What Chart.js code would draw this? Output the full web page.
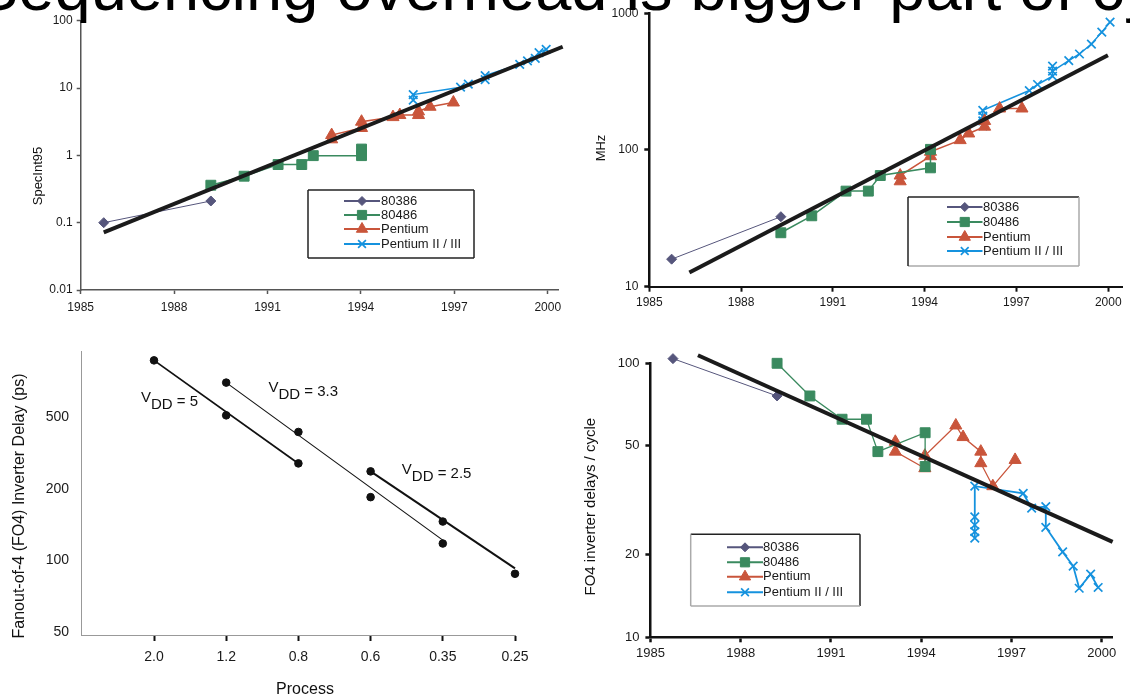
<!DOCTYPE html>
<html>
<head>
<meta charset="utf-8">
<script src="https://cdn.jsdelivr.net/npm/chart.js@4.4.1/dist/chart.umd.min.js"></script>
<style>
  html, body { margin: 0; padding: 0; background: #fff; }
  #page { position: relative; width: 1130px; height: 698px; overflow: hidden; background: #fff; }
  canvas { position: absolute; }
  #title {
    position: absolute; left: -25px; top: -45px; z-index: 2;
    font: 65px/65px "Liberation Sans", Arial, sans-serif; color: #000; white-space: nowrap;
  }
</style>
</head>
<body>
<div id="page">
  <canvas id="spec" width="570" height="330" style="left:0;top:0"></canvas>
  <canvas id="mhz" width="560" height="330" style="left:570px;top:0"></canvas>
  <canvas id="fo4" width="570" height="368" style="left:0;top:330px"></canvas>
  <canvas id="cycle" width="560" height="368" style="left:570px;top:330px"></canvas>
  <div id="title">Sequencing overhead is bigger part of cycle</div>
</div>
<script>
// ---------- data ----------
const yearTicks = [1985, 1988, 1991, 1994, 1997, 2000];
const seriesNames = ['80386', '80486', 'Pentium', 'Pentium II / III'];

// SpecInt95 (top left)
const specTicks = [0.01, 0.1, 1, 10, 100];
const spec386 = [[1985.74, 0.1], [1989.18, 0.21]];
const spec486 = [[1989.18, 0.36], [1990.25, 0.49], [1991.34, 0.73], [1992.1, 0.73], [1992.47, 0.99], [1994.02, 0.99], [1994.02, 1.24]];
const specPentium = [[1993.06, 1.73], [1993.06, 2.0], [1994.02, 2.55], [1994.02, 3.16], [1995.03, 3.7], [1995.25, 3.97], [1995.85, 3.97], [1995.85, 4.5], [1996.22, 5.27], [1996.97, 6.1]];
const specP2 = [[1995.68, 6.6], [1995.68, 8.0], [1997.2, 10.3], [1997.45, 11.4], [1997.99, 13.3], [1997.99, 15.3], [1999.1, 22.5], [1999.35, 25.3], [1999.6, 27.5], [1999.72, 33.5], [1999.95, 37.5]];
const specTrend = [[1985.74, 0.072], [2000.48, 41]];

// MHz (top right)
const mhzTicks = [10, 100, 1000];
const mhz386 = [[1985.73, 15.9], [1989.3, 32.5]];
const mhz486 = [[1989.3, 24.8], [1990.31, 33], [1991.43, 50], [1992.16, 50], [1992.55, 65], [1994.19, 74], [1994.19, 101]];
const mhzPentium = [[1993.2, 59], [1993.2, 65], [1994.19, 90], [1994.19, 97], [1995.16, 118], [1995.44, 132], [1995.96, 148], [1995.96, 163], [1996.45, 201], [1997.18, 201]];
const mhzP2 = [[1995.9, 150], [1995.9, 163], [1995.9, 177], [1995.9, 195], [1997.42, 272], [1997.69, 301], [1998.18, 346], [1998.18, 410], [1998.18, 377], [1998.71, 450], [1999.06, 503], [1999.45, 595], [1999.79, 727], [2000.06, 861]];
const mhzTrend = [[1986.31, 12.7], [1999.99, 492]];

// FO4 delay vs process (bottom left)
const processLabels = ['', '2.0', '1.2', '0.8', '0.6', '0.35', '0.25'];
const fo4Ticks = [50, 100, 200, 500];
const fo4Stops = [50, 100, 200, 500, 1000];
const vdd5 = [null, 871, 511, 278, null, null, null];
const vdd33 = [null, null, 702, 416, 185, 118, null];
const vdd25 = [null, null, null, null, 251, 146, 88];
const fit5 = [null, 871, null, 278, null, null, null];
const fit33 = [null, null, 702, null, null, 122, null];
const fit25 = [null, null, null, null, 251, null, 92.7];

// FO4 delays per cycle (bottom right)
const cycleTicks = [10, 20, 50, 100];
const cycle386 = [[1985.75, 104], [1989.21, 76]];
const cycle486 = [[1989.21, 100], [1990.3, 76], [1991.37, 62.5], [1992.18, 62.5], [1992.56, 47.6], [1994.13, 55.8], [1994.13, 42]];
const cyclePentium = [[1993.14, 51.7], [1993.14, 47.6], [1994.12, 41.4], [1994.12, 46], [1995.15, 59.3], [1995.39, 53.8], [1995.98, 47.6], [1995.98, 43.2], [1996.38, 35.6], [1997.12, 44.4]];
const cycleP2 = [[1995.78, 23], [1995.78, 24.3], [1995.78, 25.7], [1995.78, 27.5], [1995.78, 35.6], [1997.39, 33.5], [1997.67, 29.6], [1998.14, 30], [1998.14, 25.2], [1998.7, 20.5], [1999.05, 18.2], [1999.25, 15.1], [1999.63, 17], [1999.88, 15.2]];
const cycleTrend = [[1986.58, 107], [2000.36, 22.3]];

// ---------- look ----------
const FONT = '"Liberation Sans", Arial, sans-serif';
Chart.defaults.font.family = FONT;
Chart.defaults.color = '#1a1a1a';
Chart.defaults.animation = false;
Chart.defaults.plugins.legend.display = false;
Chart.defaults.plugins.tooltip.enabled = false;

const looks = [
  { color: '#56567c', style: 'rectRot', radius: 5, width: 1 },
  { color: '#3a8a5f', style: 'rect', radius: 7, width: 1.5 },
  { color: '#c9553b', style: 'triangle', radius: 7, width: 1.5 },
  { color: '#1592de', style: 'crossRot', radius: 6, width: 1.5 }
];

// y axis with log steps between the given stops (the FO4 plot spaces 50/100/200/500 evenly)
class StepLogScale extends Chart.Scale {
  static id = 'steplog';
  static defaults = {};
  determineDataLimits() {
    this.min = this.options.min;
    this.max = this.options.max;
  }
  buildTicks() {
    return this.options.tickValues.map(v => ({ value: v }));
  }
  toIdx(v) {
    const s = this.options.stops;
    let i = 0;
    while (i < s.length - 2 && v > s[i + 1]) i++;
    return i + Math.log(v / s[i]) / Math.log(s[i + 1] / s[i]);
  }
  fromIdx(idx) {
    const s = this.options.stops;
    const i = Math.max(0, Math.min(s.length - 2, Math.floor(idx)));
    return s[i] * Math.pow(s[i + 1] / s[i], idx - i);
  }
  getPixelForValue(v) {
    const a = this.toIdx(this.min), b = this.toIdx(this.max);
    return this.getPixelForDecimal((this.toIdx(v) - a) / (b - a));
  }
  getValueForPixel(p) {
    const a = this.toIdx(this.min), b = this.toIdx(this.max);
    return this.fromIdx(a + this.getDecimalForPixel(p) * (b - a));
  }
  getLabelForValue(v) {
    return String(v);
  }
}
Chart.register(StepLogScale);

// legend box: line + marker + name, like the original spreadsheet legends
const seriesLegend = {
  id: 'seriesLegend',
  afterDraw(chart, args, o) {
    if (!o || !o.rows) return;
    const ctx = chart.ctx;
    ctx.save();
    ctx.fillStyle = '#fff';
    ctx.fillRect(o.x, o.y, o.w, o.h);
    const sides = {
      top: [o.x, o.y, o.x + o.w, o.y],
      right: [o.x + o.w, o.y, o.x + o.w, o.y + o.h],
      bottom: [o.x, o.y + o.h, o.x + o.w, o.y + o.h],
      left: [o.x, o.y, o.x, o.y + o.h]
    };
    ctx.lineWidth = 1.5;
    Object.keys(sides).forEach(k => {
      const s = sides[k];
      ctx.strokeStyle = o.dark.includes(k) ? '#222' : '#aaa';
      ctx.beginPath();
      ctx.moveTo(s[0], s[1]);
      ctx.lineTo(s[2], s[3]);
      ctx.stroke();
    });
    chart.data.datasets.filter(d => d.inLegend).forEach((d, i) => {
      const y = o.rows[i];
      ctx.strokeStyle = d.borderColor;
      ctx.lineWidth = 2;
      ctx.beginPath();
      ctx.moveTo(o.x0, y);
      ctx.lineTo(o.x1, y);
      ctx.stroke();
      ctx.fillStyle = d.pointBackgroundColor;
      ctx.strokeStyle = d.pointBorderColor;
      ctx.lineWidth = d.pointBorderWidth;
      Chart.helpers.drawPoint(ctx, { pointStyle: d.pointStyle, radius: d.pointRadius - 0.5, borderWidth: d.pointBorderWidth, rotation: 0 }, (o.x0 + o.x1) / 2, y);
      ctx.fillStyle = '#1a1a1a';
      ctx.font = o.font + 'px ' + FONT;
      ctx.textAlign = 'left';
      ctx.textBaseline = 'middle';
      ctx.fillText(d.label, o.tx, y);
    });
    ctx.restore();
  }
};

// axis titles and the V_DD annotations
const chartText = {
  id: 'chartText',
  afterDraw(chart, args, o) {
    if (!o || !o.items) return;
    const ctx = chart.ctx;
    o.items.forEach(it => {
      ctx.save();
      ctx.translate(it.x, it.y);
      if (it.rotate) ctx.rotate(it.rotate);
      ctx.font = it.font;
      ctx.fillStyle = '#111';
      ctx.textAlign = it.align || 'left';
      ctx.textBaseline = it.baseline || 'alphabetic';
      let x = 0;
      (it.parts || [{ t: it.text, dy: 0 }]).forEach(p => {
        ctx.fillText(p.t, x, p.dy);
        x += ctx.measureText(p.t).width;
      });
      ctx.restore();
    });
  }
};

function xy(points) {
  return points.map(([x, y]) => ({ x, y }));
}

function seriesSet(points, i, lw) {
  const s = looks[i];
  return {
    label: seriesNames[i], inLegend: true,
    data: xy(points), showLine: true, clip: false,
    borderColor: s.color, borderWidth: lw || s.width,
    pointStyle: s.style, pointRadius: s.radius,
    pointBackgroundColor: s.color, pointBorderColor: s.color,
    pointBorderWidth: s.style === 'crossRot' ? 1.7 : 1
  };
}

function trendSet(points) {
  return {
    data: xy(points), showLine: true, clip: false, order: -1,
    borderColor: '#1b1b1b', borderWidth: 4, pointRadius: 0
  };
}

function yearAxis(max, o) {
  return {
    type: 'linear', min: 1985, max,
    afterBuildTicks: s => { s.ticks = yearTicks.map(v => ({ value: v })); },
    afterFit: s => { s.height = o.size; },
    ticks: { callback: v => String(v), font: { size: o.font }, padding: o.pad, maxRotation: 0, autoSkip: false },
    grid: { drawOnChartArea: false, tickLength: o.tick, tickColor: o.color, tickWidth: o.lw },
    border: { color: o.color, width: o.lw }
  };
}

function logAxis(min, max, tickValues, o) {
  return {
    type: 'logarithmic', min, max,
    afterBuildTicks: s => { s.ticks = tickValues.map(v => ({ value: v })); },
    afterFit: s => { s.width = o.size; },
    ticks: { callback: v => String(v), font: { size: o.font }, padding: o.pad, autoSkip: false },
    grid: { drawOnChartArea: false, tickLength: o.tick, tickColor: o.color, tickWidth: o.lw },
    border: { color: o.color, width: o.lw }
  };
}

const ROT = -Math.PI / 2;

// ---------- top left: SpecInt95 ----------
new Chart(document.getElementById('spec'), {
  type: 'scatter',
  data: {
    datasets: [
      trendSet(specTrend),
      seriesSet(spec386, 0), seriesSet(spec486, 1), seriesSet(specPentium, 2), seriesSet(specP2, 3)
    ]
  },
  options: {
    responsive: false,
    layout: { padding: { top: 20.7, right: 12, left: 0, bottom: 0 } },
    scales: {
      x: yearAxis(2000.33, { size: 40, font: 12, pad: 6, tick: 4, color: '#555', lw: 1.5 }),
      y: logAxis(0.01, 100, specTicks, { size: 80.7, font: 12, pad: 4, tick: 4, color: '#555', lw: 1.5 })
    },
    plugins: {
      seriesLegend: { x: 308, y: 190, w: 166, h: 68, x0: 344, x1: 380, tx: 381, rows: [201, 215, 229, 244], font: 13, dark: ['top', 'right', 'bottom', 'left'] },
      chartText: { items: [
        { text: 'SpecInt95', x: 38, y: 176, rotate: ROT, font: '13px ' + FONT, align: 'center', baseline: 'middle' }
      ] }
    }
  },
  plugins: [seriesLegend, chartText]
});

// ---------- top right: MHz ----------
new Chart(document.getElementById('mhz'), {
  type: 'scatter',
  data: {
    datasets: [
      trendSet(mhzTrend),
      seriesSet(mhz386, 0), seriesSet(mhz486, 1), seriesSet(mhzPentium, 2), seriesSet(mhzP2, 3)
    ]
  },
  options: {
    responsive: false,
    layout: { padding: { top: 11.7, right: 3, left: 0, bottom: 0 } },
    scales: {
      x: yearAxis(2000.45, { size: 43.3, font: 12, pad: 4, tick: 5, color: '#111', lw: 2 }),
      y: logAxis(10, 1000, mhzTicks, { size: 79.3, font: 12, pad: 6, tick: 5, color: '#111', lw: 2.5 })
    },
    plugins: {
      seriesLegend: { x: 338, y: 197, w: 171, h: 69, x0: 377, x1: 412.5, tx: 413, rows: [207, 222, 237, 251], font: 13, dark: ['top', 'left'] },
      chartText: { items: [
        { text: 'MHz', x: 31.4, y: 148, rotate: ROT, font: '13px ' + FONT, align: 'center', baseline: 'middle' }
      ] }
    }
  },
  plugins: [seriesLegend, chartText]
});

// ---------- bottom left: FO4 inverter delay vs process ----------
function dots(values) {
  return { data: values, showLine: false, pointRadius: 3.8, pointBackgroundColor: '#111', pointBorderColor: '#111', pointBorderWidth: 1, clip: false };
}
function fit(values, lw) {
  return { data: values, spanGaps: true, pointRadius: 0, borderColor: '#111', borderWidth: lw, clip: false };
}

new Chart(document.getElementById('fo4'), {
  type: 'line',
  data: {
    labels: processLabels,
    datasets: [fit(fit5, 1.8), fit(fit33, 1.1), fit(fit25, 2), dots(vdd5), dots(vdd33), dots(vdd25)]
  },
  options: {
    responsive: false,
    layout: { padding: { top: 16.7, right: 55, left: 0, bottom: 0 } },
    scales: {
      x: {
        type: 'category', offset: false,
        afterFit: s => { s.height = 63; },
        ticks: { font: { size: 14 }, padding: 7.6, maxRotation: 0, autoSkip: false },
        grid: { drawOnChartArea: false, tickLength: 6, tickWidth: 2, tickColor: c => (c.index === 0 ? 'rgba(0,0,0,0)' : '#111') },
        border: { color: '#999', width: 1 }
      },
      y: {
        type: 'steplog', min: 48.6, max: 952, stops: fo4Stops, tickValues: fo4Ticks,
        afterFit: s => { s.width = 81.8; },
        ticks: { callback: v => String(v), font: { size: 14 }, padding: 12.8 },
        grid: { drawOnChartArea: false, drawTicks: false },
        border: { color: '#999', width: 1 }
      }
    },
    plugins: {
      chartText: { items: [
        { text: 'Fanout-of-4 (FO4) Inverter Delay (ps)', x: 20, y: 176, rotate: ROT, font: '16px ' + FONT, align: 'center', baseline: 'middle' },
        { text: 'Process', x: 305, y: 360, font: '16px ' + FONT, align: 'center', baseline: 'middle' },
        { x: 141, y: 71.5, font: '15px ' + FONT, parts: [{ t: 'V', dy: 0 }, { t: 'DD', dy: 7 }, { t: ' = 5', dy: 4 }] },
        { x: 268.4, y: 62, font: '15px ' + FONT, parts: [{ t: 'V', dy: 0 }, { t: 'DD', dy: 7 }, { t: ' = 3.3', dy: 4 }] },
        { x: 401.8, y: 143.5, font: '15px ' + FONT, parts: [{ t: 'V', dy: 0 }, { t: 'DD', dy: 7 }, { t: ' = 2.5', dy: 4 }] }
      ] }
    }
  },
  plugins: [chartText]
});

// ---------- bottom right: FO4 inverter delays per cycle ----------
new Chart(document.getElementById('cycle'), {
  type: 'scatter',
  data: {
    datasets: [
      trendSet(cycleTrend),
      seriesSet(cycle386, 0, 1), seriesSet(cycle486, 1, 1.3), seriesSet(cyclePentium, 2, 1.3), seriesSet(cycleP2, 3, 1.8)
    ]
  },
  options: {
    responsive: false,
    layout: { padding: { top: 33.3, right: 18, left: 0, bottom: 0 } },
    scales: {
      x: yearAxis(2000.34, { size: 60.7, font: 13, pad: 3, tick: 5, color: '#111', lw: 2.5 }),
      y: logAxis(10, 100, cycleTicks, { size: 80.4, font: 13, pad: 6, tick: 5, color: '#111', lw: 2.5 })
    },
    plugins: {
      seriesLegend: { x: 120.7, y: 204.3, w: 169.3, h: 71.7, x0: 157, x1: 193, tx: 193, rows: [217.3, 232.3, 246.7, 262.3], font: 13, dark: ['top', 'right'] },
      chartText: { items: [
        { text: 'FO4 inverter delays / cycle', x: 20.7, y: 176.7, rotate: ROT, font: '15px ' + FONT, align: 'center', baseline: 'middle' }
      ] }
    }
  },
  plugins: [seriesLegend, chartText]
});
</script>
</body>
</html>
